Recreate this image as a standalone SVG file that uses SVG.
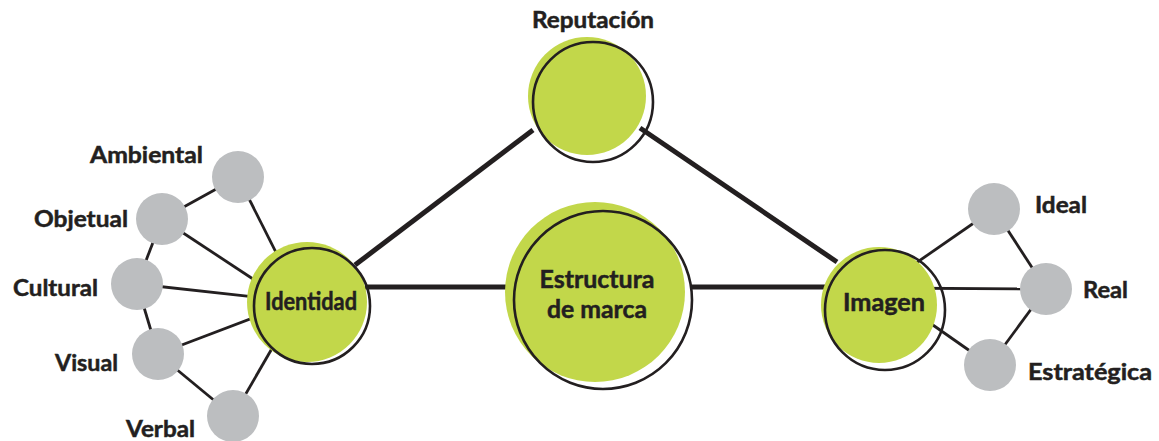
<svg xmlns="http://www.w3.org/2000/svg" width="1159" height="441" viewBox="0 0 1159 441">
<style>
.bg{fill:#ffffff}
.thick{stroke:#231f20;stroke-width:5;fill:none}
.thin{stroke:#231f20;stroke-width:2.8;fill:none}
.green{fill:#c2d74a}
.ring{fill:none;stroke:#231f20;stroke-width:2.6}
.gray{fill:#bcbec0}
.lbl{font-family:Lato,"Liberation Sans",sans-serif;font-weight:700;fill:#231f20;stroke:#231f20;stroke-width:0.5;font-size:22.5px}
.in{font-family:Lato,"Liberation Sans",sans-serif;font-weight:700;fill:#231f20;stroke:#231f20;stroke-width:0.5;font-size:24px;text-anchor:middle}
</style>
<rect class="bg" x="0" y="0" width="1159" height="441"/>
<g id="connectors">
<line class="thick" x1="355" y1="265" x2="533" y2="130"/>
<line class="thick" x1="640" y1="128" x2="837" y2="262"/>
<line class="thick" x1="365" y1="287" x2="510" y2="287"/>
<line class="thick" x1="690" y1="287" x2="825" y2="287"/>
<line class="thin" x1="238" y1="177" x2="300" y2="300"/>
<line class="thin" x1="238" y1="177" x2="162" y2="219"/>
<line class="thin" x1="162" y1="219" x2="300" y2="310"/>
<line class="thin" x1="162" y1="219" x2="137" y2="284"/>
<line class="thin" x1="137" y1="284" x2="300" y2="302"/>
<line class="thin" x1="137" y1="284" x2="158" y2="354"/>
<line class="thin" x1="158" y1="354" x2="300" y2="300"/>
<line class="thin" x1="158" y1="354" x2="233" y2="416"/>
<line class="thin" x1="233" y1="416" x2="300" y2="300"/>
<line class="thin" x1="880" y1="288" x2="994" y2="209"/>
<line class="thin" x1="880" y1="288" x2="1046" y2="289"/>
<line class="thin" x1="880" y1="288" x2="990" y2="365"/>
<line class="thin" x1="994" y1="209" x2="1046" y2="289"/>
<line class="thin" x1="1046" y1="289" x2="990" y2="365"/>
</g>
<g id="reputacion">
<circle class="green" cx="587" cy="96" r="59"/>
<circle class="ring" cx="593" cy="102" r="60"/>
<text class="lbl" x="593" y="28" text-anchor="middle" textLength="122" lengthAdjust="spacingAndGlyphs">Reputación</text>
</g>
<g id="estructura">
<circle class="green" cx="595" cy="292" r="90"/>
<circle class="ring" cx="603" cy="300" r="89"/>
<text class="in" x="597" y="288" textLength="115" lengthAdjust="spacingAndGlyphs">Estructura</text>
<text class="in" x="597" y="318" textLength="100" lengthAdjust="spacingAndGlyphs">de marca</text>
</g>
<g id="identidad">
<circle class="green" cx="307" cy="302" r="60"/>
<circle class="ring" cx="312" cy="306" r="58"/>
<text class="in" x="311" y="310" textLength="92" lengthAdjust="spacingAndGlyphs">Identidad</text>
</g>
<g id="imagen">
<circle class="green" cx="879" cy="305" r="58"/>
<circle class="ring" cx="885" cy="310" r="60"/>
<text class="in" x="884" y="311" textLength="82" lengthAdjust="spacingAndGlyphs">Imagen</text>
</g>
<g id="ambiental">
<circle class="gray" cx="238" cy="177" r="26"/>
<text class="lbl" x="203" y="163" text-anchor="end" textLength="113" lengthAdjust="spacingAndGlyphs">Ambiental</text>
</g>
<g id="objetual">
<circle class="gray" cx="162" cy="219" r="26"/>
<text class="lbl" x="128" y="227" text-anchor="end" textLength="94" lengthAdjust="spacingAndGlyphs">Objetual</text>
</g>
<g id="cultural">
<circle class="gray" cx="137" cy="284" r="26"/>
<text class="lbl" x="98" y="296" text-anchor="end" textLength="85" lengthAdjust="spacingAndGlyphs">Cultural</text>
</g>
<g id="visual">
<circle class="gray" cx="158" cy="354" r="26"/>
<text class="lbl" x="118" y="371" text-anchor="end" textLength="63" lengthAdjust="spacingAndGlyphs">Visual</text>
</g>
<g id="verbal">
<circle class="gray" cx="233" cy="416" r="26"/>
<text class="lbl" x="195" y="437" text-anchor="end" textLength="69" lengthAdjust="spacingAndGlyphs">Verbal</text>
</g>
<g id="ideal">
<circle class="gray" cx="994" cy="209" r="26"/>
<text class="lbl" x="1035" y="213" textLength="52" lengthAdjust="spacingAndGlyphs">Ideal</text>
</g>
<g id="real">
<circle class="gray" cx="1046" cy="289" r="26"/>
<text class="lbl" x="1083" y="298" textLength="45" lengthAdjust="spacingAndGlyphs">Real</text>
</g>
<g id="estrategica">
<circle class="gray" cx="990" cy="365" r="26"/>
<text class="lbl" x="1028" y="380" textLength="124" lengthAdjust="spacingAndGlyphs">Estratégica</text>
</g>
</svg>
